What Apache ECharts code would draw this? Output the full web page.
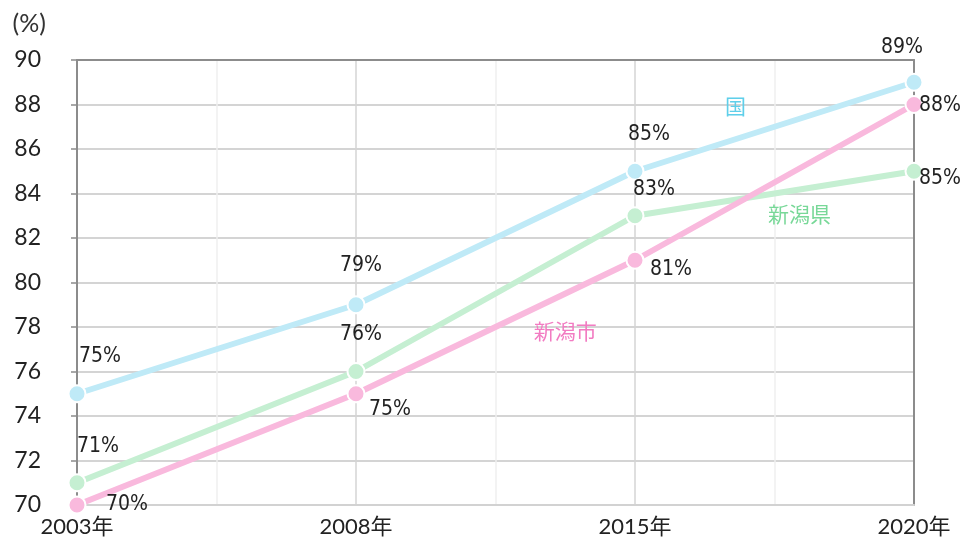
<!DOCTYPE html>
<html><head><meta charset="utf-8">
<script src="https://cdn.jsdelivr.net/npm/echarts@6/dist/echarts.min.js"></script>
<style>html,body{margin:0;padding:0;background:#fff}#c{width:962px;height:543px}</style>
</head><body><div id="c"></div>
<script>
const years = ['2003年', '2008年', '2015年', '2020年'];
const yTicks = [70, 72, 74, 76, 78, 80, 82, 84, 86, 88, 90];
const kuni = [75, 79, 85, 89];
const ken = [71, 76, 83, 85];
const shi = [70, 75, 81, 88];
const seriesNames = ['国', '新潟県', '新潟市'];

const labelFont = '"Liberation Sans Narrow", "Arial Narrow", "DejaVu Sans Condensed", "Roboto Condensed", sans-serif';
const axisFont = 'Lato, "Noto Sans CJK JP", sans-serif';
const cjkFont = '"Noto Sans CJK JP", sans-serif';

function mk(vals, offs) {
  return vals.map((v, i) => ({
    value: [i, v],
    label: { offset: offs[i] }
  }));
}

const chart = echarts.init(document.getElementById('c'));
const lineBase = (name, color, data, labelOffs, textColor, namePos) => ({
  name: name,
  type: 'line',
  data: mk(data, labelOffs),
  symbol: 'circle',
  symbolSize: 17,
  lineStyle: { color: color, width: 6 },
  itemStyle: { color: color, borderColor: '#fff', borderWidth: 2 },
  label: {
    show: true, position: 'inside',
    formatter: p => p.value[1] + '%',
    fontFamily: labelFont, fontSize: 21, color: '#222'
  },
  markPoint: {
    symbol: 'circle', symbolSize: 0,
    data: [{ coord: namePos, value: name }],
    label: { show: true, position: 'inside', formatter: name, color: textColor, fontSize: 21, fontFamily: cjkFont }
  },
  z: 3
});

chart.setOption({
  animation: false,
  grid: { left: 77, right: 48, top: 60, bottom: 38 },
  xAxis: [{
    type: 'value', min: 0, max: 3, interval: 0.5,
    axisLine: { show: true, lineStyle: { color: '#d2d2d2', width: 2 } },
    axisTick: { show: false },
    axisLabel: {
      formatter: v => (Number.isInteger(v) ? years[v] : ''),
      fontFamily: axisFont, fontSize: 22, color: '#222', margin: 11,
      showMinLabel: true, showMaxLabel: true
    },
    splitLine: {
      show: true,
      lineStyle: {
        color: ['#ffffff', '#efefef', '#d4d4d4', '#efefef', '#d4d4d4', '#efefef', '#ffffff'],
        width: 1.5,
        type: 'solid'
      }
    }
  }, {
    type: 'value', min: 0, max: 3, position: 'top',
    axisLine: { show: true, onZero: false, lineStyle: { color: '#8c8c8c', width: 2 } },
    axisTick: { show: false }, axisLabel: { show: false }, splitLine: { show: false }
  }],
  yAxis: [{
    type: 'value', min: yTicks[0], max: yTicks[yTicks.length - 1], interval: 2,
    name: '(%)', nameLocation: 'end', nameGap: 24,
    nameTextStyle: { fontFamily: axisFont, fontSize: 25, color: '#333', align: 'right', padding: [0, 31, 0, 0] },
    axisLine: { show: true, lineStyle: { color: '#8c8c8c', width: 2 } },
    axisTick: { show: true, length: 6, lineStyle: { color: '#8c8c8c', width: 1.5 } },
    axisLabel: { fontFamily: axisFont, fontSize: 23, color: '#222', margin: 36, showMinLabel: true },
    splitLine: { show: true, lineStyle: { color: '#d4d4d4', width: 2 } }
  }, {
    type: 'value', min: yTicks[0], max: yTicks[yTicks.length - 1], position: 'right',
    axisLine: { show: true, onZero: false, lineStyle: { color: '#8c8c8c', width: 2 } },
    axisTick: { show: false }, axisLabel: { show: false }, splitLine: { show: false }
  }],
  series: [
    lineBase(seriesNames[0], '#bfeaf7', kuni, [[23, -37], [5, -39], [14, -37], [-12, -35]], '#5fcfea', [2.36, 87.93]),
    lineBase(seriesNames[1], '#c5efd2', ken, [[21, -36], [5, -37], [19, -26], [26, 7]], '#78d898', [2.59, 83.1]),
    lineBase(seriesNames[2], '#f9b9dd', shi, [[50, 0], [34, 16], [36, 9], [26, 1]], '#f27cc2', [1.75, 77.8])
  ]
});
</script>
</body></html>
